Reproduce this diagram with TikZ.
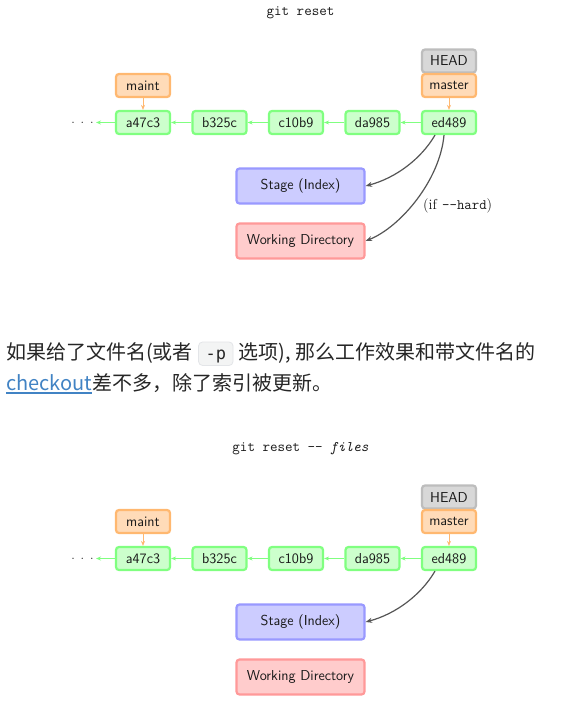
\documentclass[tikz,border=0pt]{standalone}
\usepackage{fontspec}
\newfontfamily\cjk{Noto Sans CJK SC}
\newfontfamily\codefont{DejaVu Sans Mono}
\usetikzlibrary{arrows.meta}
\definecolor{cgreenfill}{HTML}{CCFFCC}
\definecolor{cgreenline}{HTML}{80FF80}
\definecolor{corangefill}{HTML}{FFDBB8}
\definecolor{corangeline}{HTML}{FFB870}
\definecolor{cgrayfill}{HTML}{D8D8D8}
\definecolor{cgrayline}{HTML}{BDBDBD}
\definecolor{cbluefill}{HTML}{CCCCFF}
\definecolor{cblueline}{HTML}{9999FF}
\definecolor{credfill}{HTML}{FFCCCC}
\definecolor{credline}{HTML}{FF9999}
\definecolor{cdark}{HTML}{555555}
\definecolor{ctext}{HTML}{262626}
\definecolor{clink}{HTML}{4183C4}
\definecolor{ccodebg}{HTML}{F3F4F4}
\definecolor{ccodeline}{HTML}{E3E5E8}
\tikzset{
  diag/.style={font=\fontsize{14.4}{16}\selectfont\sffamily, text=black!90},
  box/.style={diag, line width=2.2pt, rounded corners=3pt, inner sep=0pt,
    minimum width=54pt, minimum height=23pt},
  commit/.style={box, draw=cgreenline, fill=cgreenfill},
  branch/.style={box, draw=corangeline, fill=corangefill},
  headbox/.style={box, draw=cgrayline, fill=cgrayfill},
  area/.style={diag, line width=2.2pt, rounded corners=3pt, inner sep=0pt,
    minimum width=128pt, minimum height=35pt},
  stagebox/.style={area, draw=cblueline, fill=cbluefill},
  wdbox/.style={area, draw=credline, fill=credfill},
  title/.style={font=\fontsize{14.6}{16}\selectfont\ttfamily, text=black!90},
  dotsnode/.style={font=\fontsize{16}{16}\selectfont, inner sep=1pt, text=black!85},
  garrow/.style={draw=cgreenline, line width=1pt, -{Stealth[length=5pt,width=4pt]}},
  oarrow/.style={draw=corangeline, line width=1pt, -{Stealth[length=5pt,width=4pt]}},
  darrow/.style={draw=cdark, line width=1.2pt, -{Stealth[length=6.5pt,width=5pt]}},
  para/.style={font=\cjk\fontsize{20}{24}\selectfont, text=ctext, inner sep=0pt},
  linktext/.style={font=\cjk\fontsize{20}{24}\selectfont, text=clink, inner sep=0pt},
  codebox/.style={font=\codefont\fontsize{17}{20}\selectfont, text=ctext, fill=ccodebg,
    draw=ccodeline, line width=0.8pt, rounded corners=4pt, inner xsep=7pt, inner ysep=3pt,
    text height=14.5pt, text depth=3pt},
}
\begin{document}
\begin{tikzpicture}[x=1pt,y=-1pt]
\useasboundingbox[fill=white] (0,0) rectangle (582,714);

% ---------- top diagram ----------
\node[title] (t1) at (300.5,12.5) {git reset};
\node[commit] (a1) at (143,122.5) {a47c3};
\node[commit] (b1) at (219.5,122.5) {b325c};
\node[commit] (c1) at (296,122.5) {c10b9};
\node[commit] (d1) at (372.5,122.5) {da985};
\node[commit] (e1) at (449,122.5) {ed489};
\node[dotsnode] (dots1) at (82.5,122.5) {.\hspace{5.5pt}.\hspace{5.5pt}.};
\node[branch] (maint1) at (143,85.5) {maint};
\node[headbox] (head1) at (449,61) {HEAD};
\node[branch] (master1) at (449,85.5) {master};
\node[stagebox] (s1) at (300.5,186) {Stage (Index)};
\node[wdbox] (w1) at (300.5,241) {Working Directory};
\draw[garrow] (a1.west) -- (96,122.5) coordinate (dd1);
\draw[garrow] (b1) -- (a1);
\draw[garrow] (c1) -- (b1);
\draw[garrow] (d1) -- (c1);
\draw[garrow] (e1) -- (d1);
\draw[oarrow] (maint1) -- (a1);
\draw[oarrow] (master1) -- (e1);
\draw[darrow] ([xshift=-14pt]e1.south) .. controls +(-14,24) and +(30,-8) .. (s1.east);
\draw[darrow] ([xshift=-5pt]e1.south) .. controls +(-4,45) and +(35,-14) .. (w1.east);
\node[anchor=west, font=\fontsize{14.4}{16}\selectfont, inner sep=0pt, text=black!90] (hard) at (423,206) {(if \texttt{-{}-hard})};

% ---------- paragraph ----------
\node[para, anchor=base west] (p1) at (6,359.5) {如果给了文件名(或者};
\node[codebox, anchor=base west] (pc) at ([xshift=5pt]p1.base east) {-p};
\node[para, anchor=base west] (p2) at ([xshift=5pt]pc.base east) {选项), 那么工作效果和带文件名的};
\node[linktext, anchor=base west] (l1) at (6,390.5) {checkout};
\draw[clink, line width=1.3pt] ([yshift=-2.5pt]l1.base west) -- ([yshift=-2.5pt]l1.base east);
\node[para, anchor=base west] (p3) at (l1.base east) {差不多，除了索引被更新。};

% ---------- bottom diagram ----------
\node[title] (t2) at (300.5,449) {git reset -{}- \textit{files}};
\node[commit] (a2) at (143,558.5) {a47c3};
\node[commit] (b2) at (219.5,558.5) {b325c};
\node[commit] (c2) at (296,558.5) {c10b9};
\node[commit] (d2) at (372.5,558.5) {da985};
\node[commit] (e2) at (449,558.5) {ed489};
\node[dotsnode] (dots2) at (82.5,558.5) {.\hspace{5.5pt}.\hspace{5.5pt}.};
\node[branch] (maint2) at (143,521.5) {maint};
\node[headbox] (head2) at (449,497) {HEAD};
\node[branch] (master2) at (449,521.5) {master};
\node[stagebox] (s2) at (300.5,622) {Stage (Index)};
\node[wdbox] (w2) at (300.5,677) {Working Directory};
\draw[garrow] (a2.west) -- (96,558.5) coordinate (dd2);
\draw[garrow] (b2) -- (a2);
\draw[garrow] (c2) -- (b2);
\draw[garrow] (d2) -- (c2);
\draw[garrow] (e2) -- (d2);
\draw[oarrow] (maint2) -- (a2);
\draw[oarrow] (master2) -- (e2);
\draw[darrow] ([xshift=-14pt]e2.south) .. controls +(-14,24) and +(30,-8) .. (s2.east);
\end{tikzpicture}
\end{document}
